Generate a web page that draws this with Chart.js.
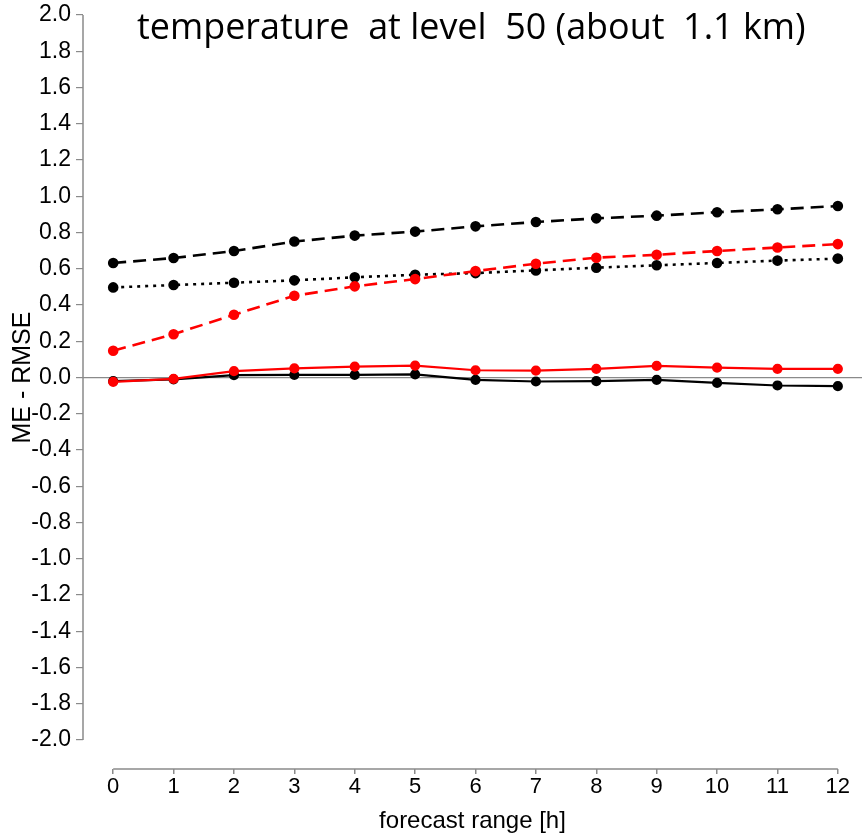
<!DOCTYPE html>
<html>
<head>
<meta charset="utf-8">
<script src="https://cdn.jsdelivr.net/npm/chart.js@4/dist/chart.umd.min.js"></script>
<style>
  html, body { margin: 0; padding: 0; background: #fff; overflow: hidden; }
  #wrap { width: 862px; height: 836px; position: relative; }
</style>
</head>
<body>
<div id="wrap"><canvas id="chartVerif"></canvas></div>
<script>
// forecast hours
const hours = [0, 1, 2, 3, 4, 5, 6, 7, 8, 9, 10, 11, 12];
const yTicks = [-2.0, -1.8, -1.6, -1.4, -1.2, -1.0, -0.8, -0.6, -0.4, -0.2, 0.0, 0.2, 0.4, 0.6, 0.8, 1.0, 1.2, 1.4, 1.6, 1.8, 2.0];

const meRed      = [-0.024, -0.008, 0.035, 0.05, 0.06, 0.066, 0.04, 0.038, 0.048, 0.064, 0.054, 0.048, 0.048];
const rmseRed    = [0.148, 0.239, 0.346, 0.451, 0.503, 0.543, 0.587, 0.628, 0.661, 0.677, 0.698, 0.717, 0.736];
const meBlack    = [-0.02, -0.01, 0.013, 0.015, 0.014, 0.017, -0.013, -0.022, -0.02, -0.013, -0.03, -0.044, -0.048];
const rmseBlack  = [0.632, 0.659, 0.698, 0.75, 0.783, 0.805, 0.834, 0.858, 0.878, 0.893, 0.912, 0.928, 0.946];
const dotBlack   = [0.497, 0.51, 0.523, 0.536, 0.553, 0.567, 0.576, 0.591, 0.606, 0.619, 0.632, 0.645, 0.656];

const toPts = arr => arr.map((v, i) => ({ x: hours[i], y: v }));

const axisGray = "#8a8a8a";
const titleText = "temperature  at level  50 (about  1.1 km)";

// axis lines drawn only over the labelled range, plus the titles
const axesPlugin = {
    id: "axesPlugin",
    afterDraw(chart) {
        const { ctx, scales, chartArea } = chart;
        const xs = scales.x, ys = scales.y;
        ctx.save();
        ctx.strokeStyle = axisGray;
        ctx.lineWidth = 1.5;
        ctx.beginPath();
        ctx.moveTo(chartArea.left, ys.getPixelForValue(2));
        ctx.lineTo(chartArea.left, ys.getPixelForValue(-2));
        ctx.moveTo(xs.getPixelForValue(0), chartArea.bottom);
        ctx.lineTo(xs.getPixelForValue(12), chartArea.bottom);
        ctx.stroke();

        ctx.fillStyle = "#000";
        // main title, sized to the width it has in the picture
        ctx.font = "34px 'Open Sans'";
        const w = ctx.measureText(titleText).width;
        const size = 34 * 668 / w;
        ctx.font = size.toFixed(1) + "px 'Open Sans'";
        ctx.textBaseline = "alphabetic";
        ctx.textAlign = "left";
        ctx.fillText(titleText, 137, 39);

        // y axis title
        ctx.font = "25px 'Liberation Sans'";
        ctx.textAlign = "center";
        ctx.textBaseline = "middle";
        ctx.translate(23, ys.getPixelForValue(0));
        ctx.rotate(-Math.PI / 2);
        ctx.fillText("ME - RMSE", 0, 0);
        ctx.restore();
    }
};

new Chart(document.getElementById("chartVerif").getContext("2d"), {
    type: "line",
    data: {
        datasets: [
            { label: "ME red", data: toPts(meRed), borderColor: "#ff0000", backgroundColor: "#ff0000", borderWidth: 2.2 },
            { label: "RMSE red", data: toPts(rmseRed), borderColor: "#ff0000", backgroundColor: "#ff0000", borderWidth: 2.6, borderDash: [13, 7] },
            { label: "ME black", data: toPts(meBlack), borderColor: "#000", backgroundColor: "#000", borderWidth: 2.2 },
            { label: "RMSE black", data: toPts(rmseBlack), borderColor: "#000", backgroundColor: "#000", borderWidth: 2.6, borderDash: [13, 7] },
            { label: "SDE black", data: toPts(dotBlack), borderColor: "#000", backgroundColor: "#000", borderWidth: 2.6, borderDash: [3, 5] },
        ],
    },
    options: {
        responsive: true,
        maintainAspectRatio: false,
        animation: false,
        layout: { autoPadding: false, padding: { top: 15, right: 0, left: 0, bottom: 0 } },
        elements: {
            point: { radius: 4, borderWidth: 0 },
            line: { tension: 0 },
        },
        plugins: {
            legend: { display: false },
            tooltip: { enabled: false },
        },
        scales: {
            x: {
                type: "linear",
                min: -0.5,
                max: 12.4,
                afterBuildTicks: s => { s.ticks = hours.map(v => ({ value: v })); },
                afterFit: s => { s.height = 67; s.paddingLeft = 0; s.paddingRight = 0; },
                border: { display: false },
                grid: { drawOnChartArea: false, drawTicks: true, tickLength: 5, tickColor: axisGray, lineWidth: 1.5 },
                ticks: { color: "#000", font: { family: "Liberation Sans", size: 22 }, padding: 0, maxRotation: 0, callback: v => String(v) },
                title: { display: true, text: "forecast range [h]", color: "#000", font: { family: "Liberation Sans", size: 24 }, padding: { top: 0, bottom: 0 } },
            },
            y: {
                min: -2.16,
                max: 2.0,
                afterBuildTicks: s => { s.ticks = yTicks.map(v => ({ value: v })); },
                afterFit: s => { s.width = 83; s.paddingTop = 0; s.paddingBottom = 0; },
                border: { display: false },
                grid: {
                    color: c => (c.tick && Math.abs(c.tick.value) < 1e-9 ? axisGray : "rgba(0,0,0,0)"),
                    tickColor: axisGray,
                    tickLength: 7,
                    lineWidth: 1.2,
                },
                ticks: { color: "#000", font: { family: "Liberation Sans", size: 23 }, padding: 5, callback: v => v.toFixed(1) },
            },
        },
    },
    plugins: [axesPlugin],
});
</script>
</body>
</html>
